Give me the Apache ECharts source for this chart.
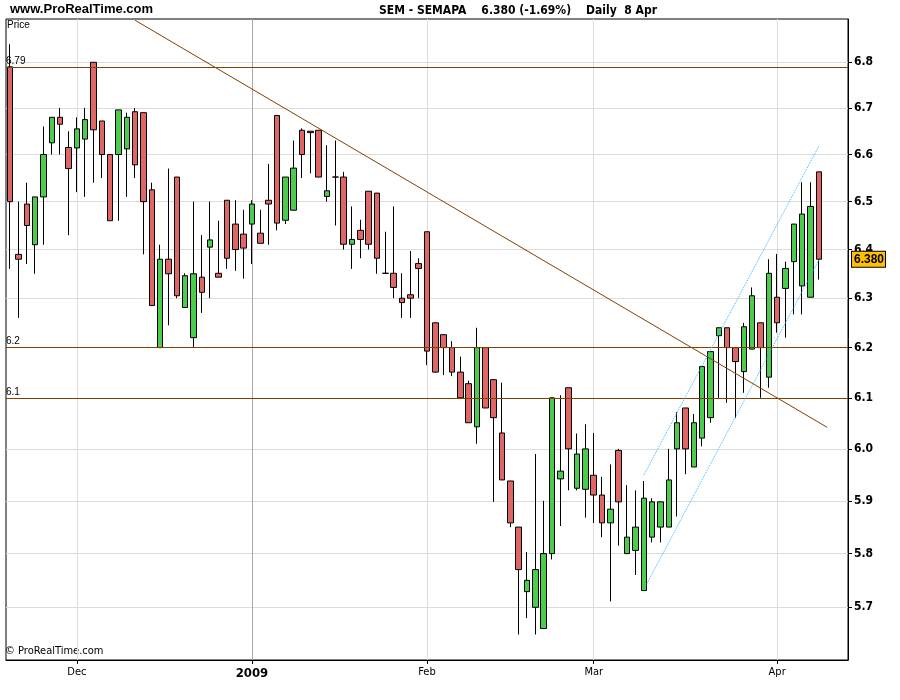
<!DOCTYPE html>
<html><head><meta charset="utf-8">
<script src="https://cdn.jsdelivr.net/npm/echarts@6/dist/echarts.min.js"></script>
<style>html,body{margin:0;padding:0;background:#fff}#c{width:900px;height:700px}</style>
</head><body><div id="c"></div>
<script>
// ---- data ----
const dates = [
 '2008-11-19','2008-11-20','2008-11-21','2008-11-24','2008-11-25','2008-11-26','2008-11-27','2008-11-28',
 '2008-12-01','2008-12-02','2008-12-03','2008-12-04','2008-12-05','2008-12-08','2008-12-09','2008-12-10','2008-12-11','2008-12-12',
 '2008-12-15','2008-12-16','2008-12-17','2008-12-18','2008-12-19','2008-12-22','2008-12-23','2008-12-24','2008-12-29','2008-12-30','2008-12-31',
 '2009-01-02','2009-01-05','2009-01-06','2009-01-07','2009-01-08','2009-01-09','2009-01-12','2009-01-13','2009-01-14','2009-01-15','2009-01-16',
 '2009-01-19','2009-01-20','2009-01-21','2009-01-22','2009-01-23','2009-01-26','2009-01-27','2009-01-28','2009-01-29','2009-01-30',
 '2009-02-02','2009-02-03','2009-02-04','2009-02-05','2009-02-06','2009-02-09','2009-02-10','2009-02-11','2009-02-12','2009-02-13',
 '2009-02-16','2009-02-17','2009-02-18','2009-02-19','2009-02-20','2009-02-23','2009-02-24','2009-02-25','2009-02-26','2009-02-27',
 '2009-03-02','2009-03-03','2009-03-04','2009-03-05','2009-03-06','2009-03-09','2009-03-10','2009-03-11','2009-03-12','2009-03-13',
 '2009-03-16','2009-03-17','2009-03-18','2009-03-19','2009-03-20','2009-03-23','2009-03-24','2009-03-25','2009-03-26','2009-03-27',
 '2009-03-30','2009-03-31','2009-04-01','2009-04-02','2009-04-03','2009-04-06','2009-04-07','2009-04-08'
];
const paddingCategories = ['', ' ', '  '];
const openP = [6.79,6.39,6.495,6.41,6.51,6.625,6.68,6.615,6.614,6.633,6.80,6.672,6.60,6.60,6.612,6.692,6.69,6.525,6.20,6.38,
 6.552,6.281,6.22,6.343,6.405,6.351,6.503,6.453,6.432,6.453,6.434,6.503,6.684,6.461,6.482,6.652,6.65,6.652,6.511,6.552,
 6.552,6.411,6.44,6.522,6.518,6.351,6.351,6.30,6.307,6.371,6.437,6.25,6.226,6.20,6.151,6.128,6.043,6.20,6.136,6.031,
 5.938,5.85,5.729,5.70,5.661,5.80,5.942,6.12,5.924,5.922,5.949,5.911,5.858,5.997,5.80,5.806,5.731,5.831,5.85,5.85,
 6.00,6.08,5.965,6.021,6.061,6.224,6.24,6.20,6.152,6.197,6.25,6.141,6.302,6.32,6.375,6.325,6.302,6.563];
const closeP = [6.50,6.38,6.45,6.51,6.60,6.68,6.665,6.57,6.655,6.675,6.653,6.60,6.46,6.696,6.68,6.578,6.50,6.285,6.38,6.35,
 6.305,6.346,6.35,6.312,6.42,6.343,6.382,6.40,6.403,6.495,6.413,6.495,6.455,6.552,6.571,6.60,6.647,6.552,6.523,6.552,
 6.411,6.421,6.421,6.411,6.382,6.351,6.322,6.291,6.30,6.361,6.193,6.151,6.20,6.151,6.10,6.051,6.20,6.08,6.061,5.94,
 5.858,5.77,5.75,5.77,5.80,6.10,5.957,6.00,5.99,6.00,5.911,5.858,5.884,5.898,5.831,5.85,5.905,5.898,5.898,5.94,
 6.051,6.00,6.051,6.162,6.192,6.24,6.20,6.172,6.242,6.305,6.20,6.351,6.25,6.361,6.453,6.474,6.49,6.38];
const lowP = [6.36,6.26,6.37,6.35,6.41,6.60,6.60,6.43,6.52,6.51,6.54,6.55,6.46,6.46,6.51,6.55,6.39,6.285,6.20,6.245,
 6.30,6.281,6.20,6.27,6.30,6.343,6.36,6.356,6.34,6.37,6.413,6.41,6.44,6.453,6.482,6.55,6.56,6.552,6.50,6.45,
 6.40,6.36,6.382,6.40,6.35,6.351,6.30,6.26,6.26,6.30,6.165,6.15,6.145,6.143,6.10,6.051,6.01,6.08,5.898,5.94,
 5.85,5.65,5.68,5.65,5.661,5.789,5.852,5.92,5.92,5.868,5.858,5.831,5.711,5.815,5.80,5.76,5.731,5.821,5.821,5.85,
 5.87,5.951,5.965,6.005,6.051,6.10,6.09,6.06,6.11,6.197,6.10,6.12,6.23,6.22,6.267,6.267,6.302,6.338];
const highP = [6.84,6.50,6.54,6.51,6.66,6.68,6.70,6.65,6.68,6.70,6.80,6.672,6.60,6.696,6.69,6.70,6.69,6.54,6.41,6.57,
 6.552,6.351,6.50,6.43,6.50,6.46,6.503,6.503,6.483,6.503,6.483,6.58,6.684,6.552,6.63,6.656,6.65,6.652,6.62,6.63,
 6.563,6.49,6.462,6.522,6.518,6.437,6.49,6.351,6.397,6.382,6.437,6.25,6.226,6.213,6.182,6.134,6.24,6.20,6.136,6.13,
 5.938,5.85,5.803,5.99,5.90,6.10,6.105,6.12,6.03,6.048,6.031,5.946,5.97,6.00,5.93,5.92,5.938,5.905,5.898,6.00,
 6.072,6.08,6.068,6.162,6.192,6.24,6.24,6.20,6.25,6.322,6.25,6.38,6.391,6.375,6.453,6.541,6.541,6.563];
const priceTicks = [5.7,5.8,5.9,6.0,6.1,6.2,6.3,6.4,6.5,6.6,6.7,6.8];
const monthStarts = ['2008-12-01','2009-01-02','2009-02-02','2009-03-02','2009-04-01'];
const monthLabels = ['Dec','2009','Feb','Mar','Apr'];
const levelValues = [6.79, 6.2, 6.1];
const levelLabels = ['6.79', '6.2', '6.1'];
const trendLine = [['2008-12-10', 6.893], [98, 6.042]];
const channelLower = [['2009-03-10', 5.733], ['2009-04-08', 6.378]];
const channelUpper = [['2009-03-10', 5.949], ['2009-04-08', 6.618]];
const lastClose = 6.38;
const lastCloseLabel = '6.380';
const headerText = 'SEM - SEMAPA    6.380 (-1.69%)    Daily  8 Apr';

// ---- chart ----
const categories = dates.concat(paddingCategories);
const candles = dates.map((d, i) => [openP[i], closeP[i], lowP[i], highP[i]]);
const monthSet = new Set(monthStarts);
const isMonthStart = (idx, val) => monthSet.has(val);
const narrow = "'Liberation Sans Narrow','Arial Narrow','DejaVu Sans Condensed',Arial,sans-serif";

const gridLines = [];
priceTicks.forEach(v => gridLines.push({yAxis: v, lineStyle: {color: '#dcdcdc', width: 1, type: 'solid'}}));
monthStarts.forEach((m, i) => gridLines.push({xAxis: m, lineStyle: {color: monthLabels[i] === '2009' ? '#a8a8a8' : '#dcdcdc', width: 1, type: 'solid'}}));

const overlays = [];
levelValues.forEach((v, i) => overlays.push({
  yAxis: v,
  lineStyle: {color: '#804000', width: 1, type: 'solid'},
  label: {show: true, position: 'insideStartTop', formatter: levelLabels[i], color: '#000', fontSize: 10, fontFamily: 'Arial', distance: [0, 1]}
}));
overlays.push([{coord: trendLine[0], lineStyle: {color: '#804000', width: 1, type: 'solid'}, label: {show: false}}, {coord: trendLine[1]}]);
overlays.push([{coord: channelLower[0], lineStyle: {color: '#33b5ff', width: 1, type: 'dotted'}, label: {show: false}}, {coord: channelLower[1]}]);
overlays.push([{coord: channelUpper[0], lineStyle: {color: '#33b5ff', width: 1, type: 'dotted'}, label: {show: false}}, {coord: channelUpper[1]}]);
overlays.push({
  yAxis: lastClose,
  lineStyle: {color: 'rgba(0,0,0,0)', width: 1},
  label: {show: true, position: 'end', distance: 4, formatter: lastCloseLabel, color: '#000', fontWeight: 'bold', fontSize: 12,
    fontFamily: 'Arial', backgroundColor: '#ffc000', borderColor: '#000', borderWidth: 1, padding: [2, 1, 1, 2]}
});

const chart = echarts.init(document.getElementById('c'), null, {renderer: 'canvas'});
chart.setOption({
  animation: false,
  backgroundColor: '#fff',
  grid: {left: 6, right: 52, top: 19, bottom: 40, show: true, borderColor: '#000', borderWidth: 1, backgroundColor: '#fff', containLabel: false, outerBoundsMode: 'none'},
  xAxis: {
    type: 'category', data: categories, boundaryGap: true,
    axisLine: {show: true, lineStyle: {color: '#000', width: 1}},
    axisTick: {show: true, alignWithLabel: true, interval: isMonthStart, length: 4, lineStyle: {color: '#000'}},
    axisLabel: {interval: isMonthStart, margin: 7, color: '#000', fontSize: 11, fontFamily: narrow,
      formatter: v => { const k = monthStarts.indexOf(v); if (k < 0) return ''; return monthLabels[k] === '2009' ? '{b|2009}' : monthLabels[k]; },
      rich: {b: {fontWeight: 'bold', fontSize: 13, fontFamily: narrow, color: '#000'}}},
    splitLine: {show: false}
  },
  yAxis: {
    type: 'log', logBase: 10, position: 'right', min: 5.6036, max: 6.896,
    axisLine: {show: true, lineStyle: {color: '#000', width: 1}},
    axisTick: {show: true, length: 4, customValues: priceTicks, lineStyle: {color: '#000'}},
    axisLabel: {show: true, customValues: priceTicks, margin: 6, color: '#000', fontWeight: 'bold', fontSize: 12, fontFamily: narrow,
      formatter: v => Number(v).toFixed(1)},
    splitLine: {show: false}, minorSplitLine: {show: false}
  },
  graphic: [
    {type: 'text', left: 10, top: 3, style: {text: 'www.ProRealTime.com', font: 'bold 13px Arial', fill: '#000'}},
    {type: 'text', x: 518, y: 5, style: {text: headerText, font: "bold 12px " + narrow, fill: '#000', textAlign: 'center'}},
    {type: 'text', x: 7, y: 20, style: {text: 'Price', font: '10px Arial', fill: '#000'}},
    {type: 'text', x: 5, y: 646, style: {text: '\u00a9 ProRealTime.com', font: '11px ' + narrow, fill: '#000'}}
  ],
  series: [
    {
      type: 'line', data: [], silent: true, z: 1,
      markLine: {silent: true, symbol: ['none', 'none'], z: 1, animation: false, label: {show: false}, data: gridLines}
    },
    {
      type: 'candlestick', data: candles, barWidth: 6, z: 3, silent: true,
      itemStyle: {color: '#4ccc4c', color0: '#e06666', borderColor: '#000', borderColor0: '#000', borderWidth: 1},
      markLine: {silent: true, symbol: ['none', 'none'], z: 5, animation: false, data: overlays}
    }
  ]
});
</script>
</body></html>
